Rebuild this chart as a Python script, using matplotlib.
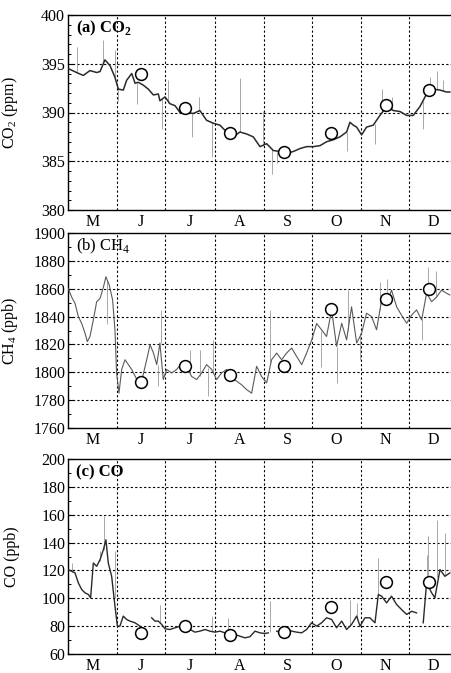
import numpy as np
import matplotlib
matplotlib.use("Agg")
import matplotlib.pyplot as plt

plt.rcParams['font.family'] = ['Liberation Serif', 'DejaVu Serif']
plt.rcParams['mathtext.fontset'] = 'custom'
plt.rcParams['mathtext.rm'] = 'Liberation Serif'
plt.rcParams['mathtext.bf'] = 'Liberation Serif:bold'

# ---- common ----
month_labels = ['M', 'J', 'J', 'A', 'S', 'O', 'N', 'D']
month_starts = [0, 31, 61, 92, 123, 153, 184, 214]   # days since 1 May
month_mids = [15.5, 45.5, 76.5, 107.5, 138, 168.5, 199, 229.5]
mean_days = [45.6, 73.6, 101.7, 135.6, 165.0, 199.6, 226.4]

# ---- (a) CO2 ----
co2_days = [0.2, 5.4, 9.6, 13.8, 18.0, 20.1, 23.2, 26.4, 29.5, 31.6, 34.7, 36.8, 40.0, 42.1, 44.1,
            47.3, 50.4, 53.6, 56.7, 57.7, 60.9, 64.0, 67.2, 70.3, 74.5, 78.7, 82.8, 87.0, 91.2, 95.4,
            99.6, 103.8, 107.9, 112.1, 116.3, 120.5, 124.7, 128.9, 133.1, 137.2, 141.4, 145.6, 149.8,
            154.0, 158.2, 162.3, 166.5, 170.7, 174.9, 177.0, 179.1, 181.2, 184.3, 187.4, 191.6, 195.8,
            200.0, 204.2, 208.4, 212.6, 216.7, 220.9, 225.1, 229.3, 233.5, 237.7, 239.7]
co2_vals = [394.5, 394.1, 393.8, 394.3, 394.1, 394.2, 395.4, 394.8, 393.6, 392.4, 392.3, 393.3, 394.0,
            393.0, 393.1, 392.8, 392.4, 391.8, 391.9, 391.2, 391.6, 390.9, 390.7, 390.0, 390.0, 389.9,
            390.2, 389.2, 388.9, 388.7, 388.0, 387.5, 388.0, 387.8, 387.5, 386.5, 386.8, 386.1, 386.0,
            385.8, 386.0, 386.3, 386.5, 386.5, 386.6, 387.0, 387.2, 387.5, 388.0, 389.0, 388.7, 388.5,
            387.7, 388.5, 388.7, 389.7, 390.6, 390.2, 390.1, 389.7, 389.7, 390.6, 391.9, 392.4, 392.3,
            392.1, 392.1]
co2_spike_days = [5.9, 22.2, 29.5, 31.6, 43.1, 58.8, 63.0, 77.6, 82.4, 90.2, 108.0, 122.6, 127.8, 131.0,
                  174.9, 192.7, 196.9, 203.1, 223.0, 227.2, 231.4, 235.6]
co2_spike_vals = [396.7, 397.4, 396.4, 391.2, 390.9, 388.3, 393.3, 387.5, 391.6, 385.4, 393.5, 390.2,
                  383.7, 384.8, 386.1, 386.8, 392.4, 391.6, 388.3, 393.6, 394.3, 393.3]
co2_spike_base = [394.1, 395.0, 393.6, 392.4, 393.0, 391.4, 391.0, 389.9, 390.2, 389.0, 388.0, 386.6,
                  386.3, 386.0, 388.0, 388.8, 389.9, 390.3, 391.2, 392.2, 392.3, 392.2]
co2_means = [393.9, 390.5, 387.9, 386.0, 387.9, 390.8, 392.3]

# ---- (b) CH4 ----
ch4_days = [0.2, 2.3, 4.4, 6.5, 8.6, 10.7, 12.1, 13.8, 15.9, 18.0, 20.1, 22.2, 23.8, 25.9, 28.0, 29.5,
            30.5, 32.0, 33.7, 35.8, 37.9, 40.0, 43.1, 46.2, 49.4, 51.5, 53.6, 55.7, 57.7, 59.8, 61.9,
            65.1, 68.2, 71.4, 74.5, 77.6, 80.8, 83.9, 87.0, 90.2, 93.3, 96.4, 99.6, 102.7, 105.9, 109.0,
            112.1, 115.3, 118.4, 121.5, 124.7, 127.8, 131.0, 134.1, 137.2, 140.4, 143.5, 146.7, 149.8,
            153.0, 156.1, 159.2, 162.3, 165.5, 168.6, 171.8, 174.9, 178.0, 181.2, 184.3, 187.4, 190.6,
            193.7, 196.9, 200.0, 203.1, 206.3, 209.4, 212.6, 215.7, 218.8, 222.0, 225.1, 228.3, 231.4,
            234.5, 237.7, 239.7]
ch4_vals = [1860, 1854, 1849.5, 1840, 1835, 1828, 1822, 1825.7, 1837.6, 1850.7, 1853, 1861, 1868.6,
            1862.6, 1852, 1830, 1799.5, 1785, 1802, 1809, 1805.5, 1802, 1795, 1793.6, 1809, 1819.8, 1814,
            1805.5, 1821, 1794.8, 1802, 1799.5, 1802, 1806.7, 1804.3, 1797, 1794.8, 1799.5, 1805.5, 1802,
            1794.8, 1799.5, 1802, 1796, 1793.6, 1791, 1787.6, 1785, 1804.3, 1797, 1792.4, 1809, 1813.8,
            1809, 1813.8, 1817.4, 1811.4, 1805.5, 1813.8, 1823.3, 1835, 1830.5, 1825.7, 1844.8, 1818.6,
            1835.2, 1823.3, 1847, 1821, 1828, 1842.4, 1840, 1830.5, 1852, 1849.5, 1859, 1847, 1841,
            1835.2, 1841, 1844.8, 1837.6, 1856.7, 1850.7, 1854, 1859, 1856.7, 1855.5]
ch4_spike_days = [58.2, 56.7, 126.8, 168.6, 175.9, 91.2, 88.1, 200.0, 225.7, 231.0, 222.0, 82.8, 76.6,
                  24.3, 159.0, 183.3, 196.0]
ch4_spike_vals = [1844.8, 1790, 1844.8, 1792, 1859, 1823, 1783, 1867, 1875.7, 1873, 1823, 1816, 1816,
                  1835, 1804, 1809, 1865]
ch4_spike_base = [1821, 1805, 1805, 1818, 1830, 1800, 1803, 1849, 1855, 1854, 1838, 1797, 1800, 1866,
                  1830, 1828, 1845]
ch4_means = [1792.9, 1804.8, 1798.0, 1804.8, 1845.7, 1852.4, 1859.8]

# ---- (c) CO ----
co_days = [0.2, 2.3, 4.4, 6.5, 8.6, 10.7, 12.8, 14.2, 15.9, 18.0, 20.1, 22.2, 23.8, 25.3, 27.4, 29.5,
           31.0, 32.6, 34.7, 36.8, 38.9, 42.1, 45.2, 47.0, 52.5, 54.6, 56.7, 58.8, 60.9, 64.0, 67.2,
           70.3, 73.4, 76.6, 79.7, 82.8, 86.0, 89.1, 92.3, 95.4, 98.5, 101.7, 104.8, 107.9, 111.1,
           114.2, 117.4, 120.5, 123.6, 125.7, 127.0, 131.0, 134.1, 137.2, 140.4, 143.5, 146.7, 149.8,
           152.9, 156.1, 159.2, 162.3, 165.5, 168.6, 171.8, 174.9, 178.0, 181.2, 183.3, 186.4, 189.5,
           192.7, 194.8, 196.9, 200.0, 203.1, 206.3, 209.4, 212.6, 215.7, 218.8, 220.0, 223.0, 225.1,
           228.3, 230.3, 233.5, 236.6, 239.7]
co_vals = [120.6, 119.4, 118.2, 111, 106.3, 103.9, 102.7, 100.3, 125.3, 123, 127.7, 134.9, 142, 125.3,
           115.8, 94.3, 80, 80, 87.2, 84.8, 83.6, 82.4, 80, np.nan, 86, 83.6, 83.6, 81.2, 78.1, 77.6,
           78.8, 80, 80.5, 77.6, 75.7, 76.4, 77.6, 76.4, 75.7, 76.4, 75.2, 74, 74, 72.8, 71.6, 72.4,
           76.4, 75.2, 74.7, 75.2, np.nan, 76.4, 75.2, 78.1, 76.4, 75.7, 75.2, 77.6, 82.4, 80, 82.4, 86,
           84.8, 78.8, 83.6, 77.6, 81.2, 87.2, 80, 86, 86, 82.4, 102.7, 101.5, 96.7, 101.5, 95.5, 91.9,
           88.4, 90.7, 89.5, np.nan, 82.4, 111, 103.9, 100.3, 120.6, 115.8, 118.2]
co_spike_days = [2.3, 20.1, 22.6, 29.5, 57.7, 90.2, 100.6, 126.8, 177.0, 181.2, 194.8, 225.1, 226.2,
                 231.4, 236.6]
co_spike_vals = [125.3, 133.7, 158.8, 133.7, 95.5, 87.2, 86, 97.9, 99.1, 96.7, 128.9, 131.3, 144.4,
                 156.4, 146.8]
co_spike_base = [119, 127, 135, 100, 82, 76, 75, 76, 80, 86, 102, 111, 110, 115, 116]
co_means = [75.2, 80.0, 73.3, 75.7, 93.8, 112.0, 112.0]

# ---- figure ----
fig = plt.figure(figsize=(4.51, 6.73), dpi=100)
W, H = 451.0, 673.0
left_px, right_px = 68, 456
panels = [
    dict(top=15, bot=210, days=co2_days, vals=co2_vals, sd=co2_spike_days, sv=co2_spike_vals,
         sb=co2_spike_base, means=co2_means, ylim=(380, 400), major=5, minor=1,
         ylabel=r'CO$_2$ (ppm)', title=r'(a) CO$_\mathbf{2}$', bold=True, lc='#2a2a2a', lw=1.1),
    dict(top=233, bot=428, days=ch4_days, vals=ch4_vals, sd=ch4_spike_days, sv=ch4_spike_vals,
         sb=ch4_spike_base, means=ch4_means, ylim=(1760, 1900), major=20, minor=10,
         ylabel=r'CH$_4$ (ppb)', title=r'(b) CH$_4$', bold=False, lc='#5a5a5a', lw=0.8),
    dict(top=459, bot=654, days=co_days, vals=co_vals, sd=co_spike_days, sv=co_spike_vals,
         sb=co_spike_base, means=co_means, ylim=(60, 200), major=20, minor=10,
         ylabel='CO (ppb)', title='(c) CO', bold=True, lc='#2a2a2a', lw=1.0),
]

xmax = (right_px - left_px) / 1.593
for p in panels:
    ax = fig.add_axes([left_px / W, 1 - p['bot'] / H, (right_px - left_px) / W, (p['bot'] - p['top']) / H])
    ax.set_xlim(0, xmax)
    ax.set_ylim(*p['ylim'])
    ax.vlines(p['sd'], p['sb'], p['sv'], colors='#9a9a9a', linewidth=0.6, zorder=2)
    ax.plot(p['days'], p['vals'], color=p['lc'], linewidth=p['lw'], zorder=3)
    ax.plot(mean_days, p['means'], linestyle='none', marker='o', markersize=8.5,
            markerfacecolor='white', markeredgecolor='black', markeredgewidth=1.1, zorder=5)

    ax.set_xticks(month_mids)
    ax.set_xticklabels(month_labels, fontsize=11.5)
    ax.set_xticks(month_starts[1:], minor=True)
    ax.tick_params(axis='x', which='both', length=0, pad=3)
    y0, y1 = p['ylim']
    ax.set_yticks(np.arange(y0, y1 + 0.1, p['major']))
    ax.set_yticks(np.arange(y0, y1 + 0.1, p['minor']), minor=True)
    ax.tick_params(axis='y', which='major', direction='in', length=4, width=0.8, labelsize=11.5, pad=2)
    ax.tick_params(axis='y', which='minor', direction='in', length=2.2, width=0.7)
    ax.tick_params(right=False, top=False)
    for ms in month_starts[1:]:
        ax.axvline(ms, color='black', linestyle=(0, (2, 2)), linewidth=0.8, zorder=1)
    for yv in np.arange(y0 + p['major'], y1, p['major']):
        ax.axhline(yv, color='black', linestyle=(0, (2, 2)), linewidth=0.8, zorder=1)
    for s in ax.spines.values():
        s.set_linewidth(1.0)
    ax.set_ylabel(p['ylabel'], fontsize=11.5)
    ax.yaxis.set_label_coords(-(left_px - 20) / (right_px - left_px), 0.5)
    ax.text(8 / (right_px - left_px), 0.93, p['title'], transform=ax.transAxes, fontsize=12,
            fontweight='bold' if p['bold'] else 'normal', va='center', ha='left')

fig.savefig('out.png', dpi=100)
